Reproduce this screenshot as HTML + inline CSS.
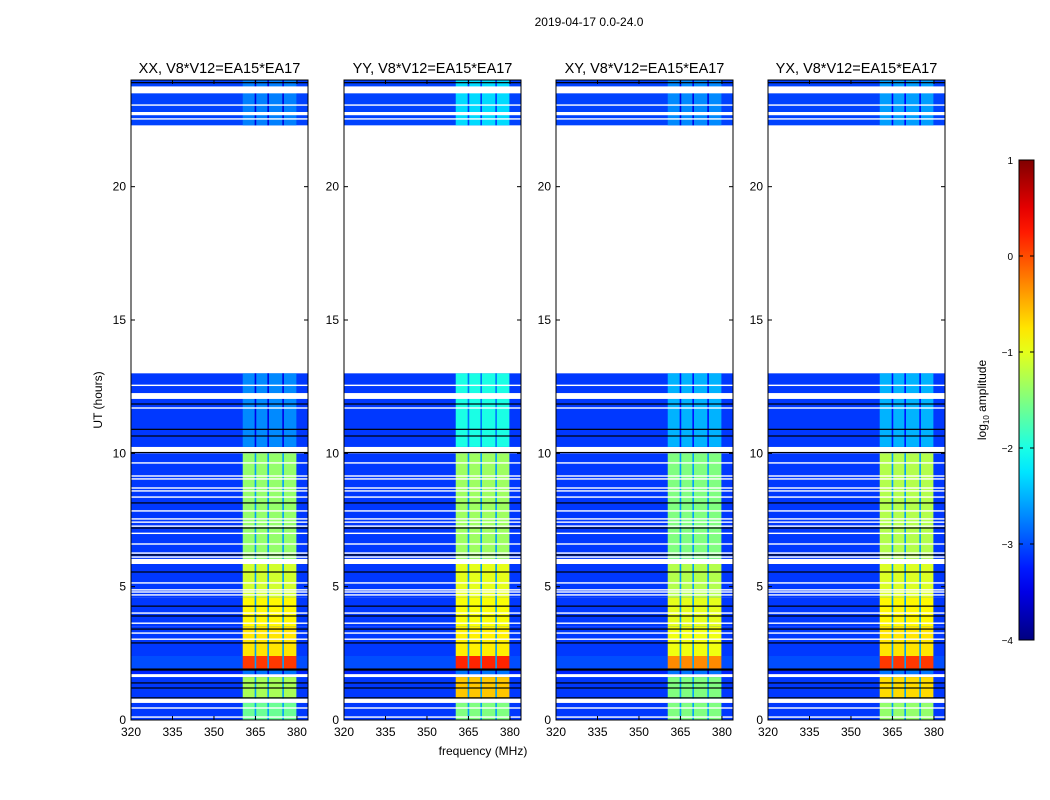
<!DOCTYPE html>
<html><head><meta charset="utf-8">
<style>
body{margin:0;background:#fff;}
svg{display:block;font-family:"Liberation Sans",sans-serif;}
</style></head>
<body>
<svg id="fig" width="1050" height="800" viewBox="0 0 1050 800">
<text x="589" y="26" font-size="12" text-anchor="middle">2019-04-17 0.0-24.0</text>
<text transform="translate(102,400) rotate(-90)" font-size="12" text-anchor="middle">UT (hours)</text>
<text x="483" y="755" font-size="12" text-anchor="middle">frequency (MHz)</text>
<g id="panels"></g>
<g id="cbar"></g>
<text transform="translate(986,400) rotate(-90)" font-size="12" text-anchor="middle">log<tspan font-size="8" dy="3">10</tspan><tspan dy="-3"> amplitude</tspan></text>
</svg>
<script>
const panelTitles = ["XX, V8*V12=EA15*EA17","YY, V8*V12=EA15*EA17","XY, V8*V12=EA15*EA17","YX, V8*V12=EA15*EA17"];
const segStart = [0, 0.8, 1.72, 1.91, 2.4, 3.5, 4.6, 6.04, 10.24, 22.3];
const segEnd   = [0.64, 1.61, 1.91, 2.4, 3.5, 4.6, 5.85, 10.0, 13.0, 24];
const bgLevels = [-3.1,-3.1,-3.2,-3.0,-3.1,-3.1,-3.1,-3.1,-3.1,-3.05];
const bandXX = [-1.6,-1.3,-2.8,0.1,-0.75,-0.85,-1.1,-1.4,-2.7,-2.75];
const bandYY = [-1.5,-0.6,-2.8,0.2,-0.8,-0.9,-1.0,-1.35,-2.0,-2.3];
const bandXY = [-1.5,-1.5,-2.8,-0.3,-0.95,-1.0,-1.25,-1.5,-2.5,-2.7];
const bandYX = [-1.4,-0.7,-2.8,0.1,-0.75,-0.85,-1.05,-1.25,-2.5,-2.6];
const bandSets = [bandXX, bandYY, bandXY, bandYX];
const bandLo = 360.4, bandHi = 379.8;
const subGaps = [365.0, 369.6, 375.0];
const flagStart = [12.04, 22.68, 23.5];
const flagEnd   = [12.26, 22.8, 23.76];
const whiteLines = [0.11,0.45,3.03,3.26,3.63,4.01,4.69,4.8,4.88,5.14,6.11,6.26,6.6,7.0,7.27,7.42,7.54,7.84,8.36,8.59,8.7,9.04,9.15,9.64,11.7,12.55,22.54,23.06];
const blackLines = [0.83,1.2,1.39,1.91,2.89,3.41,3.9,4.27,5.55,6.19,7.2,8.14,10.03,10.65,10.9,11.85,23.9];
const xTicks = [320,335,350,365,380];
const yTicks = [0,5,10,15,20];
const cbTicks = [1,0,-1,-2,-3,-4];

const panelLeft = [131,344,556,768], PW=177, PT=80, PB=720;
const NS="http://www.w3.org/2000/svg";
function jet(v){const t=Math.max(0,Math.min(1,(v+4)/5));
 const c=x=>Math.round(255*Math.max(0,Math.min(1,x)));
 return `rgb(${c(1.5-Math.abs(4*t-3))},${c(1.5-Math.abs(4*t-2))},${c(1.5-Math.abs(4*t-1))})`;}
function el(tag,attrs,parent){const e=document.createElementNS(NS,tag);for(const k in attrs)e.setAttribute(k,attrs[k]);parent.appendChild(e);return e;}
const yS=h=>PB-(h/24)*(PB-PT);
const root=document.getElementById('panels');
panelTitles.forEach((title,p)=>{
 const L=panelLeft[p]; const xS=f=>L+(f-320)/64*PW;
 const g=el('g',{},root);
 
 
 const band=bandSets[p];
 segStart.forEach((s,i)=>{
  const y1=yS(segEnd[i]), y2=yS(s);
  const r=el('rect',{x:L,y:y1,width:PW,height:y2-y1,fill:jet(bgLevels[i])},g);
  
  
  const b=el('rect',{x:xS(bandLo),y:y1,width:xS(bandHi)-xS(bandLo),height:y2-y1,fill:jet(band[i])},g);
  
  
  subGaps.forEach(f=>{
   const gl=el('rect',{x:xS(f)-0.8,y:y1,width:1.6,height:y2-y1,fill:jet(Math.min(band[i]-0.8,-2.6))},g);
   
   
  });
 });
 flagStart.forEach((s,i)=>{
  const f=el('rect',{x:L,y:yS(flagEnd[i]),width:PW,height:yS(s)-yS(flagEnd[i]),fill:'#fff'},g);
  
  
 });
 whiteLines.forEach(h=>{
  const w=el('rect',{x:L,y:yS(h)-0.7,width:PW,height:1.4,fill:'#fff'},g);
  
  
 });
 blackLines.forEach(h=>{
  const w=el('rect',{x:L,y:yS(h)-0.6,width:PW,height:h===1.91?2.2:1.2,fill:'#000'},g);
  
  
 });
 const fr=el('rect',{x:L,y:PT,width:PW,height:PB-PT,fill:'none',stroke:'#000','stroke-width':1},g);
 
 
 xTicks.forEach(t=>{
  const x=xS(t);
  el('line',{x1:x,y1:PB,x2:x,y2:PB-4,stroke:'#000'},g);
  el('line',{x1:x,y1:PT,x2:x,y2:PT+4,stroke:'#000'},g);
  const tx=el('text',{x:x,y:PB+16,'font-size':12,'text-anchor':'middle'},g);
  tx.textContent=t;
  
  
 });
 yTicks.forEach(t=>{
  const y=yS(t);
  el('line',{x1:L,y1:y,x2:L+4,y2:y,stroke:'#000'},g);
  el('line',{x1:L+PW,y1:y,x2:L+PW-4,y2:y,stroke:'#000'},g);
  const tx=el('text',{x:L-5,y:y+4,'font-size':12,'text-anchor':'end'},g);
  tx.textContent=t;
  
  
 });
 const tt=el('text',{x:L+PW/2,y:73,'font-size':14.5,'text-anchor':'middle'},g);
 tt.textContent=title;
 
 
});
const cb=document.getElementById('cbar');
const CX=1019,CW=15,CT=160,CB=640;
const defs=el('defs',{},cb);
const grad=el('linearGradient',{id:'jetg',x1:0,y1:1,x2:0,y2:0},defs);
for(let i=0;i<=20;i++){el('stop',{offset:i/20,'stop-color':jet(-4+5*i/20)},grad);}
el('rect',{x:CX,y:CT,width:CW,height:CB-CT,fill:'url(#jetg)',stroke:'#000','stroke-width':1},cb);
cbTicks.forEach(t=>{
 const y=CB-(t+4)/5*(CB-CT);
 el('line',{x1:CX,y1:y,x2:CX+4,y2:y,stroke:'#000'},cb);
 el('line',{x1:CX+CW,y1:y,x2:CX+CW-4,y2:y,stroke:'#000'},cb);
 const tx=el('text',{x:1013,y:y+4,'font-size':10,'text-anchor':'end'},cb);
 tx.textContent=t<0?'\u2212'+(-t):String(t);
 
 
});
</script>
</body></html>
